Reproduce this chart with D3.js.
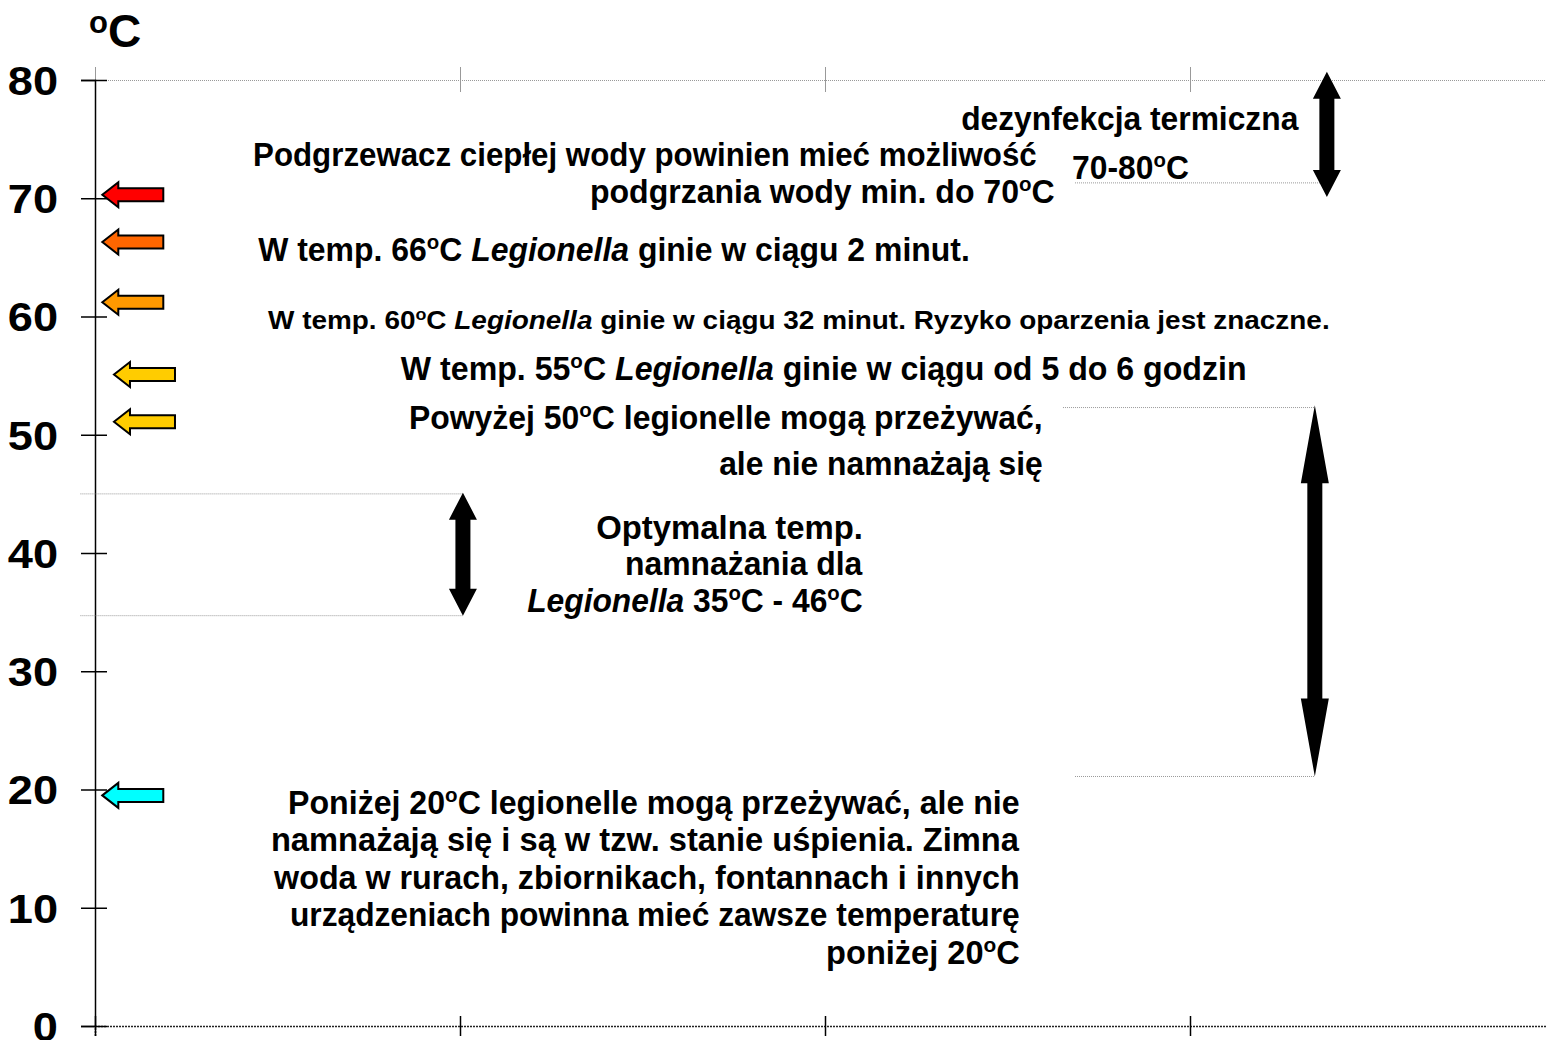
<!DOCTYPE html>
<html>
<head>
<meta charset="utf-8">
<script src="https://cdn.jsdelivr.net/npm/d3@7"></script>
<style>
  body { margin: 0; background: #fff; }
  svg { display: block; }
  text { font-family: "Liberation Sans", Arimo, Arial, sans-serif; font-weight: bold; fill: #000; }
</style>
</head>
<body>
<div id="chart"></div>
<script>
// axis values
var tempTicks = [0, 10, 20, 30, 40, 50, 60, 70, 80]
var colTicks = [0, 1, 2, 3, 4]

// block arrows pointing at the axis
var markerTemps = [70.3, 66.3, 61.2, 55.1, 51.1, 19.5]
var markerCols = [0.02, 0.02, 0.02, 0.052, 0.052, 0.02]
var markerColors = ['#ff0000', '#ff6600', '#ff9900', '#ffcc00', '#ffcc00', '#00ffff']

// double arrows (temperature ranges)
var rangeLow = [70.1, 34.7, 21.1]
var rangeHigh = [80.7, 45.1, 52.5]
var rangeCols = [3.375, 1.008, 3.342]

// dotted guides
var guideTemps = [71.3, 45.0, 34.7, 52.3, 21.1]
var guideFrom = [2.685, -0.04, -0.04, 2.652, 2.685]
var guideTo = [3.375, 1.008, 1.008, 3.342, 3.342]

// notes: ^o = raised degree "o", *...* = italic
var notes = [
  'dezynfekcja termiczna',
  '70-80^oC',
  'Podgrzewacz ciepłej wody powinien mieć możliwość',
  'podgrzania wody min. do 70^oC',
  'W temp. 66^oC *Legionella* ginie w ciągu 2 minut.',
  'W temp. 60^oC *Legionella* ginie w ciągu 32 minut. Ryzyko oparzenia jest znaczne.',
  'W temp. 55^oC *Legionella* ginie w ciągu od 5 do 6 godzin',
  'Powyżej 50^oC legionelle mogą przeżywać,',
  'ale nie namnażają się',
  'Optymalna temp.',
  'namnażania dla',
  '*Legionella* 35^oC - 46^oC',
  'Poniżej 20^oC legionelle mogą przeżywać, ale nie',
  'namnażają się i są w  tzw. stanie uśpienia. Zimna',
  'woda w  rurach, zbiornikach, fontannach i innych',
  'urządzeniach powinna mieć zawsze temperaturę',
  'poniżej 20^oC'
]
var noteTemps = [75.77, 71.63, 72.73, 69.6, 64.69, 58.94, 54.63, 50.49, 46.6, 41.18, 38.14, 35.01, 17.93, 14.8, 11.59, 8.46, 5.24]
var noteFrom = [2.373, 2.677, 0.433, 1.356, 0.447, 0.474, 0.838, 0.86, 1.71, 1.373, 1.452, 1.184, 0.529, 0.482, 0.488, 0.534, 2.003]
var noteTo = [3.299, 2.997, 2.581, 2.63, 2.397, 3.384, 3.156, 2.597, 2.597, 2.104, 2.104, 2.104, 2.534, 2.534, 2.534, 2.534, 2.534]

var width = 1546
var height = 1040

var svg = d3.select('#chart').append('svg')
  .attr('width', width)
  .attr('height', height)

var x = d3.scaleLinear().domain([0, 4]).range([95, 1555])
var y = d3.scaleLinear().domain([0, 80]).range([1026, 80])

// top frame line (gray dotted)
var topAxis = svg.append('g').attr('transform', `translate(0,${y(80)})`)
  .call(d3.axisTop(x).tickValues(colTicks).tickSize(13).tickFormat(''))
topAxis.select('.domain').attr('stroke', '#999').attr('stroke-dasharray', '1,1')
topAxis.selectAll('.tick line').attr('stroke', '#999').attr('y2', -13).attr('y1', 12)

// bottom axis (black dotted)
var bottomAxis = svg.append('g').attr('transform', `translate(0,${y(0)})`)
  .call(d3.axisBottom(x).tickValues(colTicks).tickSize(10).tickFormat(''))
bottomAxis.select('.domain').attr('stroke', '#222').attr('stroke-width', 1.6).attr('stroke-dasharray', '2,1')
bottomAxis.selectAll('.tick line').attr('stroke', '#000').attr('stroke-width', 1.5).attr('y1', -10)

// left axis
var tick = 14, pad = 23, off = tick + pad
var leftAxis = svg.append('g').attr('transform', `translate(${x(0)},0)`)
  .call(d3.axisLeft(y).tickValues(tempTicks).tickSize(tick).tickPadding(pad))
leftAxis.select('.domain').attr('stroke', '#000').attr('stroke-width', 1.5)
leftAxis.selectAll('.tick line').attr('stroke', '#000').attr('stroke-width', 1.5).attr('x2', 12).attr('x1', -tick)
leftAxis.selectAll('.tick text')
  .style('font-family', '"Liberation Sans", Arimo, Arial, sans-serif')
  .style('font-size', '40px').style('font-weight', 'bold').attr('fill', '#000')
  .attr('dy', '0.36em')
  .attr('transform', `translate(${-off},0) scale(1.13,1) translate(${off},0)`)

// unit label
var unit = svg.append('text').attr('x', 89).attr('y', 47)
unit.append('tspan').style('font-size', '31px').attr('dy', -14).text('o')
unit.append('tspan').style('font-size', '46px').attr('dy', 14).text('C')

// dotted guides
svg.append('g').selectAll('line').data(guideTemps).join('line')
  .attr('x1', (d, i) => x(guideFrom[i]))
  .attr('x2', (d, i) => x(guideTo[i]))
  .attr('y1', d => y(d))
  .attr('y2', d => y(d))
  .attr('stroke', '#999')
  .attr('stroke-dasharray', '1,1')

// block arrows
function leftArrow(tx, cy, len) {
  var hl = 16, hh = 12.5, bh = 6.5
  return `M${tx},${cy}L${tx + hl},${cy - hh}L${tx + hl},${cy - bh}L${tx + len},${cy - bh}` +
    `L${tx + len},${cy + bh}L${tx + hl},${cy + bh}L${tx + hl},${cy + hh}Z`
}
svg.append('g').selectAll('path').data(markerTemps).join('path')
  .attr('d', (d, i) => leftArrow(x(markerCols[i]), y(d), 61))
  .attr('fill', (d, i) => markerColors[i])
  .attr('stroke', '#000')
  .attr('stroke-width', 2)
  .attr('stroke-linejoin', 'miter')

// double arrows
function upDown(cx, y1, y2) {
  var len = y2 - y1
  var hl = Math.max(27, len * 0.21), hw = 14, sw = 7.5
  return `M${cx},${y1}L${cx + hw},${y1 + hl}L${cx + sw},${y1 + hl}L${cx + sw},${y2 - hl}` +
    `L${cx + hw},${y2 - hl}L${cx},${y2}L${cx - hw},${y2 - hl}L${cx - sw},${y2 - hl}` +
    `L${cx - sw},${y1 + hl}L${cx - hw},${y1 + hl}Z`
}
svg.append('g').selectAll('path').data(rangeLow).join('path')
  .attr('d', (d, i) => upDown(x(rangeCols[i]), y(rangeHigh[i]), y(d)))
  .attr('fill', '#000')

// notes
function rich(sel, str, fs) {
  var parts = str.split(/(\^o|\*[^*]+\*)/).filter(s => s)
  var raised = false
  parts.forEach(p => {
    if (p === '^o') {
      sel.append('tspan').style('font-size', (fs * 0.64) + 'px').attr('dy', -fs * 0.37).text('o')
      raised = true
      return
    }
    var t = sel.append('tspan')
    if (raised) { t.attr('dy', fs * 0.37); raised = false }
    if (p[0] === '*') t.style('font-style', 'italic').text(p.slice(1, -1))
    else t.text(p)
  })
}

var fontFor = i => i === 5 ? 25 : 33

var noteSel = svg.append('g').selectAll('text').data(notes).join('text')
  .attr('x', 0)
  .attr('y', (d, i) => y(noteTemps[i]))
  .style('font-size', (d, i) => fontFor(i) + 'px')
  .each(function (d, i) { rich(d3.select(this), d, fontFor(i)) })

// stretch each line to its span
noteSel.each(function (d, i) {
  var bb = this.getBBox()
  var x0 = x(noteFrom[i]), x1 = x(noteTo[i])
  var k = (x1 - x0) / bb.width
  d3.select(this).attr('transform', `translate(${x0},0) scale(${k},1) translate(${-bb.x},0)`)
})
</script>
</body>
</html>
